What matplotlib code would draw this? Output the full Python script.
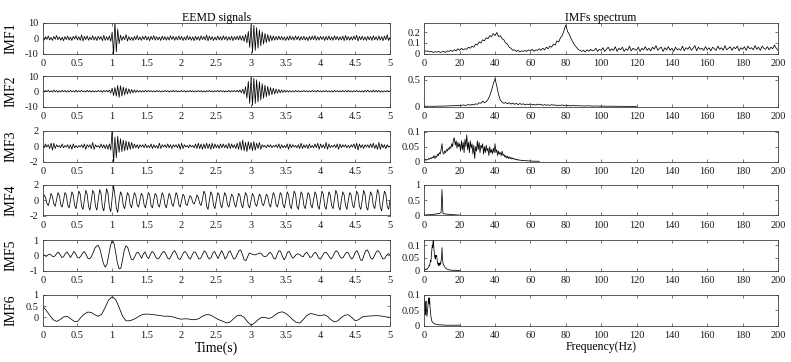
import numpy as np
import matplotlib
matplotlib.use('Agg')
import matplotlib.pyplot as plt
from matplotlib.ticker import FormatStrFormatter

plt.rcParams['font.family'] = ['Liberation Serif', 'DejaVu Serif']

imf_names = ['IMF1', 'IMF2', 'IMF3', 'IMF4', 'IMF5', 'IMF6']

# time signals (evenly spaced over 0..5 s)
imf1 = [0.3, -1.2, 1.0, -0.8, 1.5, -1.1, 0.6, -1.4, 1.2, -0.7,
        1.8, -1.0, 0.9, -1.3, 0.7, -1.6, 1.1, -0.9, 1.4, -1.2,
        0.8, -1.5, 1.3, -0.6, 1.7, -1.1, 1.0, -1.4, 2.2, -1.8,
        1.2, -0.9, 1.5, -1.3, 0.8, -1.0, 1.6, -1.2, 0.9, -1.5,
        1.3, -0.7, 1.1, -1.6, 1.9, -1.4, 1.0, -1.2, 1.5, -2.0,
        4.0, -11, 11, -9, 6, -3.5, 2.0, -1.5, 1.2, -0.9,
        2.4, -1.8, 1.1, -1.3, 0.7, -1.5, 1.2, -1.0, 1.8, -1.1,
        0.9, -1.4, 1.2, -0.8, 1.5, -1.2, 1.0, -1.6, 1.3, -0.9,
        1.7, -1.3, 1.0, -1.1, 0.8, -1.5, 1.4, -1.0, 1.1, -1.3,
        0.9, -1.2, 1.6, -0.8, 1.2, -1.4, 1.0, -1.1, 1.5, -1.0,
        1.2, -1.5, 0.8, -1.2, 1.7, -1.0, 1.1, -1.3, 0.9, -1.6,
        1.3, -1.1, 1.0, -1.4, 1.6, -0.9, 1.2, -1.2, 2.1, -1.7,
        1.4, -1.0, 1.1, -1.5, 0.8, -1.2, 1.5, -1.1, 1.0, -1.3,
        1.6, -0.9, 1.2, -1.4, 1.0, -1.2, 1.3, -1.6, 1.1, -1.0,
        1.4, -1.2, 1.7, -1.3, 1.5, -2.0, 2.5, -3.0, 4.5, -6.0,
        9.0, -9.5, 8.5, -8.0, 7.0, -6.5, 5.5, -5.0, 4.2, -3.8,
        3.2, -2.8, 2.5, -2.2, 1.8, -1.6, 1.5, -1.3, 1.2, -1.1,
        1.4, -1.0, 1.2, -1.3, 0.9, -1.5, 1.1, -1.2, 1.6, -1.0,
        1.0, -1.3, 1.5, -0.9, 1.2, -1.4, 1.1, -1.0, 1.3, -1.2,
        0.8, -1.6, 1.2, -1.1, 1.4, -1.0, 1.7, -1.3, 1.0, -1.2,
        1.3, -0.9, 1.1, -1.5, 1.2, -1.1, 1.5, -1.2, 0.9, -1.4,
        1.6, -1.0, 1.2, -1.3, 1.0, -1.1, 1.4, -1.6, 1.8, -1.2,
        1.1, -1.3, 1.0, -1.2, 1.5, -0.9, 2.0, -1.8, 1.2, -1.1,
        1.4, -1.2, 0.9, -1.5, 1.3, -1.0, 1.1, -1.4, 1.6, -1.1,
        1.0, -1.3, 1.5, -1.2, 1.1, -1.6, 1.4, -1.0, 2.3, -1.5, 0.4]

imf2 = [0.4, -0.6, 0.5, -0.3, 0.7, -0.5, 0.3, -0.6, 0.8, -0.4,
        0.5, -0.7, 0.4, -0.5, 0.6, -0.3, 0.5, -0.6, 0.4, -0.5,
        0.6, -0.4, 0.3, -0.5, 0.7, -0.6, 0.4, -0.3, 0.5, -0.4,
        0.3, -0.5, 0.6, -0.4, 0.5, -0.6, 0.4, -0.5, 0.3, -0.4,
        0.5, -0.3, 0.4, -0.6, 0.5, -0.4, 0.6, -0.5, 0.8, -1.2,
        2.0, -2.8, 2.5, -3.2, 3.8, -4.0, 3.6, -3.2, 2.8, -2.4,
        2.2, -1.8, 1.6, -1.4, 1.2, -1.0, 0.9, -0.8, 0.7, -0.6,
        0.5, -0.6, 0.4, -0.5, 0.6, -0.4, 0.5, -0.3, 0.4, -0.5,
        0.3, -0.4, 0.5, -0.3, 0.4, -0.5, 0.3, -0.4, 0.5, -0.3,
        0.4, -0.5, 0.3, -0.4, 0.6, -0.3, 0.4, -0.5, 0.3, -0.4,
        0.5, -0.3, 0.4, -0.6, 0.3, -0.4, 0.5, -0.3, 0.4, -0.5,
        0.3, -0.4, 0.5, -0.3, 0.4, -0.5, 0.3, -0.6, 0.4, -0.3,
        0.5, -0.4, 0.3, -0.5, 0.4, -0.3, 0.6, -0.4, 0.5, -0.3,
        0.4, -0.5, 0.3, -0.4, 0.5, -0.6, 0.4, -0.3, 0.5, -0.4,
        0.6, -0.5, 0.8, -1.0, 1.4, -2.0, 3.0, -4.5, 6.5, -8.0,
        9.0, -9.2, 8.5, -8.0, 7.5, -7.0, 6.2, -5.8, 5.0, -4.6,
        4.0, -3.6, 3.2, -2.8, 2.5, -2.2, 2.0, -1.8, 1.5, -1.3,
        1.2, -1.0, 0.9, -0.8, 0.7, -0.6, 0.5, -0.6, 0.4, -0.5,
        0.3, -0.4, 0.5, -0.3, 0.4, -0.5, 0.3, -0.4, 0.5, -0.3,
        0.4, -0.5, 0.3, -0.4, 0.5, -0.3, 0.4, -0.5, 0.6, -0.4,
        0.3, -0.5, 0.4, -0.3, 0.5, -0.4, 0.3, -0.5, 0.4, -0.6,
        0.5, -0.3, 0.4, -0.5, 0.3, -0.4, 0.5, -0.3, 0.4, -0.5,
        0.6, -0.4, 0.3, -0.5, 0.4, -0.3, 0.5, -0.4, 0.3, -0.5,
        0.4, -0.6, 0.5, -0.3, 0.7, -0.5, 0.4, -0.6, 0.8, -0.5,
        0.6, -0.4, 0.5, -0.7, 0.4, -0.5, 0.3, -0.4, 0.5, -0.3, 0.2]

imf3 = [0.1, -0.2, 0.3, -0.1, 0.2, -0.3, 0.4, -0.5, 0.4, -0.3,
        0.2, -0.1, 0.1, -0.2, 0.3, -0.2, 0.1, -0.1, 0.2, -0.3,
        0.2, -0.4, 0.3, -0.2, 0.1, -0.2, 0.1, -0.1, 0.2, -0.2,
        0.3, -0.4, 0.2, -0.1, 0.2, -0.3, 0.5, -0.4, 0.2, -0.1,
        0.1, -0.2, 0.3, -0.2, 0.2, -0.3, 0.2, -0.4, 0.3, -0.5,
        2.3, -2.3, 1.2, -1.5, 1.3, -0.8, 1.0, -0.7, 0.8, -0.6,
        0.7, -0.5, 0.6, -0.4, 0.5, -0.3, 0.3, -0.2, 0.2, -0.3,
        0.2, -0.1, 0.2, -0.2, 0.3, -0.2, 0.1, -0.2, 0.3, -0.3,
        0.2, -0.2, 0.1, -0.3, 0.4, -0.3, 0.2, -0.1, 0.2, -0.2,
        0.3, -0.2, 0.2, -0.3, 0.2, -0.1, 0.2, -0.2, 0.3, -0.4,
        0.4, -0.3, 0.2, -0.1, 0.1, -0.2, 0.2, -0.1, 0.1, -0.2,
        0.3, -0.3, 0.4, -0.3, 0.3, -0.4, 0.3, -0.3, 0.4, -0.3,
        0.3, -0.4, 0.4, -0.3, 0.3, -0.2, 0.2, -0.3, 0.3, -0.2,
        0.3, -0.2, 0.2, -0.3, 0.4, -0.3, 0.3, -0.2, 0.2, -0.3,
        0.4, -0.4, 0.6, -0.5, 0.8, -0.6, 0.5, -0.7, 0.6, -0.4,
        0.5, -0.6, 0.6, -0.5, 0.4, -0.3, 0.5, -0.4, 0.2, -0.1,
        0.1, -0.2, 0.2, -0.1, 0.2, -0.2, 0.1, -0.1, 0.2, -0.2,
        0.3, -0.3, 0.2, -0.2, 0.1, -0.2, 0.3, -0.4, 0.3, -0.2,
        0.2, -0.1, 0.1, -0.2, 0.2, -0.3, 0.4, -0.3, 0.2, -0.2,
        0.2, -0.3, 0.3, -0.2, 0.1, -0.2, 0.3, -0.2, 0.4, -0.4,
        0.3, -0.2, 0.2, -0.3, 0.5, -0.4, 0.3, -0.2, 0.1, -0.1,
        0.2, -0.2, 0.3, -0.4, 0.3, -0.2, 0.2, -0.1, 0.2, -0.2,
        0.1, -0.2, 0.2, -0.1, 0.3, -0.3, 0.4, -0.5, 0.3, -0.2,
        0.2, -0.3, 0.2, -0.1, 0.2, -0.2, 0.3, -0.2, 0.4, -0.3,
        0.2, -0.4, 0.5, -0.4, 0.3, -0.2, 0.2, -0.3, 0.2, -0.1, 0.0]

imf4 = [0.0, 0.7, 0.4, -0.4, -0.7, 0.0, 0.9, 0.5, -0.5, -0.8,
        0.1, 1.0, 0.6, -0.6, -0.9, 0.0, 1.0, 0.7, -0.6, -1.0,
        0.0, 1.1, 0.7, -0.7, -1.1, 0.1, 1.2, 0.8, -0.8, -1.2,
        0.0, 1.3, 0.8, -0.8, -1.3, 0.0, 1.3, 0.9, -0.8, -1.3,
        0.1, 1.4, 0.9, -0.9, -1.4, 0.0, 1.5, 0.9, -0.9, -1.5,
        0.3, 1.9, 0.6, -1.0, -1.6, 0.0, 1.1, 0.7, -0.7, -1.1,
        0.0, 1.0, 0.7, -0.6, -1.0, 0.1, 1.0, 0.6, -0.6, -0.9,
        0.0, 0.9, 0.6, -0.6, -1.0, 0.0, 1.0, 0.7, -0.7, -1.0,
        0.1, 0.9, 0.6, -0.6, -0.9, 0.0, 1.0, 0.6, -0.6, -1.0,
        0.0, 0.9, 0.5, -0.5, -0.8, 0.1, 1.0, 0.6, -0.6, -0.9,
        0.0, 0.8, 0.5, -0.5, -0.7, 0.0, 0.6, 0.4, -0.3, -0.5,
        0.0, 0.7, 0.4, -0.4, -0.7, 0.1, 1.2, 0.8, -0.8, -1.2,
        0.0, 1.1, 0.7, -0.7, -1.1, 0.0, 1.0, 0.7, -0.6, -1.0,
        0.1, 1.0, 0.6, -0.6, -0.9, 0.0, 0.8, 0.5, -0.5, -0.9,
        0.0, 0.9, 0.6, -0.6, -1.0, 0.1, 1.0, 0.6, -0.7, -1.0,
        0.0, 0.9, 0.5, -0.5, -0.8, 0.0, 0.8, 0.5, -0.5, -0.7,
        0.0, 0.8, 0.5, -0.5, -0.9, 0.1, 1.0, 0.6, -0.6, -0.9,
        0.0, 1.0, 0.7, -0.6, -1.0, 0.0, 1.1, 0.7, -0.7, -1.1,
        0.1, 1.2, 0.8, -0.8, -1.2, 0.0, 1.1, 0.7, -0.7, -1.1,
        0.0, 1.0, 0.7, -0.6, -1.0, 0.1, 1.1, 0.7, -0.7, -1.2,
        0.0, 1.2, 0.8, -0.8, -1.2, 0.0, 1.1, 0.7, -0.7, -1.1,
        0.1, 1.3, 0.8, -0.8, -1.3, 0.0, 1.1, 0.7, -0.7, -1.2,
        0.0, 1.0, 0.7, -0.6, -1.0, 0.1, 1.2, 0.8, -0.8, -1.2,
        0.0, 1.3, 0.8, -0.9, -1.3, 0.0, 1.1, 0.7, -0.7, -1.1,
        0.1, 1.4, 0.9, -0.9, -1.4, 0.0, 1.2, 0.8, -0.8, -1.2, 0.0]

imf5 = [0.05, 0.0, -0.08, 0.02, 0.08, 0.0, -0.1, -0.05,
        0.1, 0.2, 0.05, -0.15, -0.1, 0.1, 0.22, 0.05,
        -0.15, 0.05, 0.25, 0.1, -0.15, -0.18, -0.05, 0.15,
        0.24, 0.05, -0.2, -0.24, -0.1, 0.15, 0.45, 0.6,
        0.65, 0.4, -0.1, -0.55, -0.78, -0.6, 0.0, 0.6,
        0.98, 0.8, 0.2, -0.5, -0.9, -0.85, -0.3, 0.35,
        0.62, 0.5, 0.1, -0.25, -0.3, -0.1, 0.15, 0.2,
        0.0, -0.2, 0.1, 0.22, -0.1, -0.22, 0.05, 0.25,
        0.15, -0.1, -0.25, -0.2, 0.0, 0.2, 0.25, 0.05,
        -0.2, -0.25, -0.05, 0.2, 0.3, 0.1, -0.2, -0.28,
        -0.1, 0.15, 0.25, 0.1, -0.15, -0.25, 0.0, 0.22,
        0.2, -0.05, -0.25, -0.2, 0.05, 0.28, 0.2, -0.1,
        -0.25, -0.15, 0.15, 0.25, 0.0, -0.22, 0.05, 0.3,
        0.1, -0.25, -0.1, 0.2, 0.28, 0.0, -0.25, -0.2,
        0.05, 0.3, 0.35, 0.05, -0.3, -0.35, -0.1, 0.15,
        0.1, 0.05, 0.02, 0.05, 0.1, 0.15, 0.1, -0.05,
        -0.1, -0.05, 0.1, 0.2, 0.05, -0.2, -0.25, 0.05,
        0.3, 0.25, -0.05, -0.3, -0.1, 0.2, 0.25, 0.0,
        -0.2, -0.1, 0.05, 0.1, 0.05, -0.05, -0.1, 0.1,
        0.2, 0.05, -0.15, -0.1, 0.1, 0.2, 0.05, -0.2,
        -0.25, -0.05, 0.15, 0.2, 0.1, -0.1, -0.25, -0.1,
        0.15, 0.3, 0.2, -0.05, -0.2, -0.15, 0.05, 0.2,
        0.15, -0.1, -0.25, -0.1, 0.2, 0.3, 0.05, -0.3,
        -0.35, 0.0, 0.3, 0.35, 0.1, -0.2, -0.25, -0.05,
        0.2, 0.3, 0.2, -0.05, -0.25, -0.2, 0.0, 0.1, 0.05]

imf6 = [0.5, 0.32, 0.1, -0.1, -0.18, -0.1, 0.02, 0.05, -0.05, -0.17,
        -0.18, 0.0, 0.15, 0.24, 0.22, 0.12, 0.05, 0.15, 0.45, 0.78,
        0.92, 0.8, 0.45, 0.05, -0.15, -0.15, -0.1, -0.02, 0.08, 0.14,
        0.15, 0.14, 0.12, 0.1, 0.08, 0.05, 0.06, 0.04, 0.0, -0.05,
        -0.08, -0.06, -0.07, -0.1, -0.1, -0.05, 0.05, 0.12, 0.12, 0.05,
        -0.05, -0.12, -0.18, -0.25, -0.2, -0.05, 0.08, 0.1, 0.0, -0.2,
        -0.35, -0.25, -0.1, 0.0, 0.0, -0.05, 0.0, 0.12, 0.22, 0.25,
        0.18, 0.05, -0.1, -0.22, -0.25, -0.1, 0.08, 0.17, 0.15, 0.1,
        0.08, 0.12, 0.05, -0.1, -0.2, -0.15, 0.0, 0.1, 0.12, 0.0,
        -0.15, -0.1, 0.02, 0.05, 0.06, 0.07, 0.08, 0.07, 0.05, 0.02, 0.0]

# spectra, evenly spaced from 0 Hz up to spec_fmax
spec1 = [0.03, 0.02, 0.025, 0.015, 0.02, 0.01, 0.018, 0.012, 0.02, 0.01,
         0.015, 0.02, 0.01, 0.025, 0.02, 0.03, 0.02, 0.035, 0.025, 0.045,
         0.03, 0.05, 0.035, 0.045, 0.04, 0.06, 0.05, 0.07, 0.06, 0.09,
         0.08, 0.11, 0.1, 0.13, 0.12, 0.15, 0.14, 0.17, 0.16, 0.19,
         0.17, 0.2, 0.16, 0.17, 0.14, 0.13, 0.1, 0.09, 0.06, 0.05,
         0.03, 0.035, 0.02, 0.03, 0.015, 0.025, 0.02, 0.03, 0.02, 0.035,
         0.025, 0.04, 0.02, 0.035, 0.03, 0.045, 0.03, 0.05, 0.035, 0.06,
         0.045, 0.07, 0.06, 0.09, 0.08, 0.12, 0.11, 0.15, 0.17, 0.22,
         0.27, 0.21, 0.18, 0.14, 0.11, 0.08, 0.06, 0.04, 0.03, 0.02,
         0.03, 0.015, 0.035, 0.02, 0.04, 0.025, 0.03, 0.05, 0.02, 0.04,
         0.03, 0.055, 0.02, 0.04, 0.06, 0.025, 0.045, 0.03, 0.065, 0.02,
         0.05, 0.035, 0.06, 0.02, 0.045, 0.03, 0.07, 0.025, 0.05, 0.04,
         0.03, 0.06, 0.02, 0.05, 0.035, 0.065, 0.03, 0.05, 0.025, 0.06,
         0.04, 0.075, 0.03, 0.05, 0.06, 0.02, 0.055, 0.035, 0.065, 0.03,
         0.05, 0.02, 0.06, 0.035, 0.045, 0.03, 0.07, 0.025, 0.055, 0.04,
         0.065, 0.03, 0.05, 0.075, 0.025, 0.06, 0.04, 0.05, 0.03, 0.065,
         0.035, 0.055, 0.025, 0.06, 0.045, 0.03, 0.07, 0.04, 0.055, 0.03,
         0.075, 0.035, 0.05, 0.065, 0.03, 0.06, 0.045, 0.07, 0.025, 0.055,
         0.04, 0.065, 0.03, 0.07, 0.045, 0.055, 0.035, 0.075, 0.04, 0.06,
         0.03, 0.07, 0.05, 0.04, 0.065, 0.035, 0.06, 0.045, 0.08, 0.05, 0.03]

spec2 = [0.005, 0.003, 0.006, 0.004, 0.005, 0.003, 0.006, 0.004, 0.008, 0.005,
         0.01, 0.006, 0.012, 0.008, 0.015, 0.01, 0.018, 0.012, 0.02, 0.015,
         0.025, 0.018, 0.03, 0.02, 0.028, 0.035, 0.025, 0.04, 0.03, 0.05,
         0.04, 0.07, 0.06, 0.1, 0.07, 0.09, 0.13, 0.2, 0.3, 0.42,
         0.52, 0.38, 0.22, 0.12, 0.08, 0.06, 0.075, 0.05, 0.07, 0.045,
         0.065, 0.04, 0.06, 0.035, 0.055, 0.04, 0.05, 0.03, 0.045, 0.035,
         0.05, 0.03, 0.04, 0.025, 0.045, 0.03, 0.04, 0.02, 0.035, 0.025,
         0.03, 0.02, 0.035, 0.025, 0.03, 0.015, 0.025, 0.02, 0.03, 0.015,
         0.025, 0.015, 0.02, 0.01, 0.02, 0.012, 0.018, 0.01, 0.015, 0.01,
         0.012, 0.008, 0.015, 0.01, 0.012, 0.006, 0.01, 0.008, 0.01, 0.006,
         0.008, 0.005, 0.008, 0.004, 0.006, 0.005, 0.006, 0.003, 0.005, 0.004,
         0.004, 0.003, 0.004, 0.002, 0.003, 0.002, 0.003, 0.002, 0.002, 0.001, 0.001]

spec3 = [0.005, 0.008, 0.004, 0.007, 0.006, 0.01, 0.008, 0.012, 0.01, 0.015,
         0.012, 0.02, 0.01, 0.018, 0.015, 0.025, 0.02, 0.03, 0.025, 0.04,
         0.06, 0.03, 0.025, 0.035, 0.03, 0.04, 0.035, 0.045, 0.04, 0.05,
         0.045, 0.06, 0.05, 0.075, 0.08, 0.055, 0.07, 0.045, 0.065, 0.05,
         0.06, 0.035, 0.07, 0.04, 0.065, 0.03, 0.075, 0.05, 0.09, 0.04,
         0.065, 0.03, 0.07, 0.045, 0.06, 0.025, 0.055, 0.01, 0.05, 0.035,
         0.07, 0.04, 0.065, 0.03, 0.055, 0.045, 0.06, 0.025, 0.05, 0.03,
         0.055, 0.035, 0.045, 0.02, 0.05, 0.03, 0.04, 0.025, 0.045, 0.03,
         0.06, 0.03, 0.04, 0.02, 0.035, 0.025, 0.03, 0.02, 0.035, 0.02,
         0.025, 0.015, 0.02, 0.012, 0.018, 0.01, 0.016, 0.01, 0.014, 0.008,
         0.012, 0.008, 0.01, 0.006, 0.008, 0.005, 0.007, 0.004, 0.005, 0.004,
         0.004, 0.003, 0.004, 0.003, 0.003, 0.002, 0.003, 0.002, 0.002, 0.002,
         0.002, 0.001, 0.002, 0.001, 0.001, 0.001, 0.001, 0.001, 0.001, 0.001, 0.0]

spec4 = [0.01, 0.02, 0.015, 0.025, 0.02, 0.03, 0.025, 0.03, 0.035, 0.03,
         0.04, 0.035, 0.05, 0.045, 0.06, 0.05, 0.07, 0.06, 0.08, 0.1,
         0.85, 0.08, 0.05, 0.06, 0.045, 0.05, 0.04, 0.045, 0.035, 0.04,
         0.03, 0.035, 0.025, 0.03, 0.02, 0.025, 0.02, 0.015, 0.02, 0.01,
         0.01, 0.008, 0.006, 0.005, 0.004, 0.003, 0.003, 0.002, 0.002, 0.001, 0.0]

spec5 = [0.002, 0.004, 0.003, 0.005, 0.004, 0.006, 0.005, 0.008, 0.01, 0.012,
         0.015, 0.02, 0.018, 0.03, 0.04, 0.035, 0.06, 0.08, 0.1, 0.09,
         0.12, 0.11, 0.08, 0.06, 0.05, 0.045, 0.06, 0.055, 0.06, 0.04,
         0.03, 0.025, 0.02, 0.03, 0.025, 0.02, 0.03, 0.025, 0.04, 0.05,
         0.09, 0.05, 0.03, 0.025, 0.02, 0.018, 0.015, 0.012, 0.01, 0.008,
         0.007, 0.006, 0.005, 0.004, 0.004, 0.003, 0.003, 0.002, 0.002, 0.002,
         0.002, 0.001, 0.001, 0.001, 0.001, 0.001, 0.001, 0.001, 0.001, 0.001,
         0.001, 0.001, 0.0, 0.0, 0.0, 0.0, 0.0, 0.0, 0.0, 0.0, 0.0]

spec6 = [0.085, 0.06, 0.035, 0.07, 0.08, 0.05, 0.03, 0.045, 0.06, 0.08,
         0.09, 0.07, 0.09, 0.06, 0.045, 0.03, 0.02, 0.015, 0.012, 0.01,
         0.009, 0.008, 0.007, 0.006, 0.005, 0.005, 0.004, 0.004, 0.004, 0.003,
         0.003, 0.003, 0.003, 0.002, 0.002, 0.002, 0.002, 0.002, 0.002, 0.002,
         0.002, 0.002, 0.002, 0.002, 0.002, 0.001, 0.001, 0.001, 0.001, 0.001,
         0.001, 0.001, 0.001, 0.001, 0.001, 0.001, 0.001, 0.001, 0.001, 0.001,
         0.001, 0.001, 0.001, 0.001, 0.001, 0.001, 0.001, 0.001, 0.001, 0.001,
         0.001, 0.001, 0.001, 0.001, 0.001, 0.001, 0.001, 0.001, 0.001, 0.001, 0.001]

signals = [imf1, imf2, imf3, imf4, imf5, imf6]
spectra = [spec1, spec2, spec3, spec4, spec5, spec6]
spec_fmax = [200, 120, 65, 25, 20, 20]

sig_ylims = [(-10, 10), (-10, 10), (-2, 2), (-2, 2), (-1, 1), (-0.36, 1)]
sig_yticks = [[-10, 0, 10], [-10, 0, 10], [-2, 0, 2], [-2, 0, 2], [-1, 0, 1], [0, 0.5, 1]]
spec_ylims = [(0, 0.29), (0, 0.57), (0, 0.103), (0, 1), (0, 0.12), (0, 0.1)]
spec_yticks = [[0, 0.1, 0.2], [0, 0.5], [0, 0.05, 0.1], [0, 0.5, 1], [0, 0.05, 0.1], [0, 0.05, 0.1]]

# axes rows in pixels from the top of the 791x362 figure
row_top = [23, 76, 131, 185, 240, 295]
row_h = 30.5
W, H = 791, 362


def style_axes(ax):
    for s in ax.spines.values():
        s.set_linewidth(0.6)
        s.set_color('0.25')
    ax.tick_params(direction='in', length=2.5, width=0.5, color='0.25',
                   top=True, right=True, labelsize=7.5, colors='0.1')
    ax.tick_params(axis='x', pad=4)
    ax.tick_params(axis='y', pad=3)
    ax.yaxis.set_major_formatter(FormatStrFormatter('%g'))
    ax.xaxis.set_major_formatter(FormatStrFormatter('%g'))


fig = plt.figure(figsize=(W / 100, H / 100), dpi=100)

for k in range(6):
    bottom = 1 - (row_top[k] + row_h) / H

    # left column: time signals
    ax = fig.add_axes([42.7 / W, bottom, 347.3 / W, row_h / H])
    y = np.array(signals[k])
    t = np.linspace(0, 5, len(y))
    ax.plot(t, y, color='k', linewidth=0.55)
    ax.set_xlim(0, 5)
    ax.set_ylim(*sig_ylims[k])
    ax.set_xticks(np.arange(0, 5.01, 0.5))
    ax.set_yticks(sig_yticks[k])
    style_axes(ax)
    ax.set_ylabel(imf_names[k], fontsize=10)
    ax.yaxis.set_label_coords(-0.072, 0.5)
    if k == 0:
        ax.set_title('EEMD signals', fontsize=8.5, pad=1.5)
    if k == 5:
        ax.set_xlabel('Time(s)', fontsize=10, labelpad=1)

    # right column: spectra
    ax2 = fig.add_axes([424.3 / W, bottom, 353.7 / W, row_h / H])
    a = np.array(spectra[k])
    f = np.linspace(0, spec_fmax[k], len(a))
    ax2.plot(f, a, color='k', linewidth=0.55)
    ax2.set_xlim(0, 200)
    ax2.set_ylim(*spec_ylims[k])
    ax2.set_xticks(np.arange(0, 201, 20))
    ax2.set_yticks(spec_yticks[k])
    style_axes(ax2)
    if k == 0:
        ax2.set_title('IMFs spectrum', fontsize=8.5, pad=1.5)
    if k == 5:
        ax2.set_xlabel('Frequency(Hz)', fontsize=8.5, labelpad=1)

fig.savefig('out.png', dpi=100)
